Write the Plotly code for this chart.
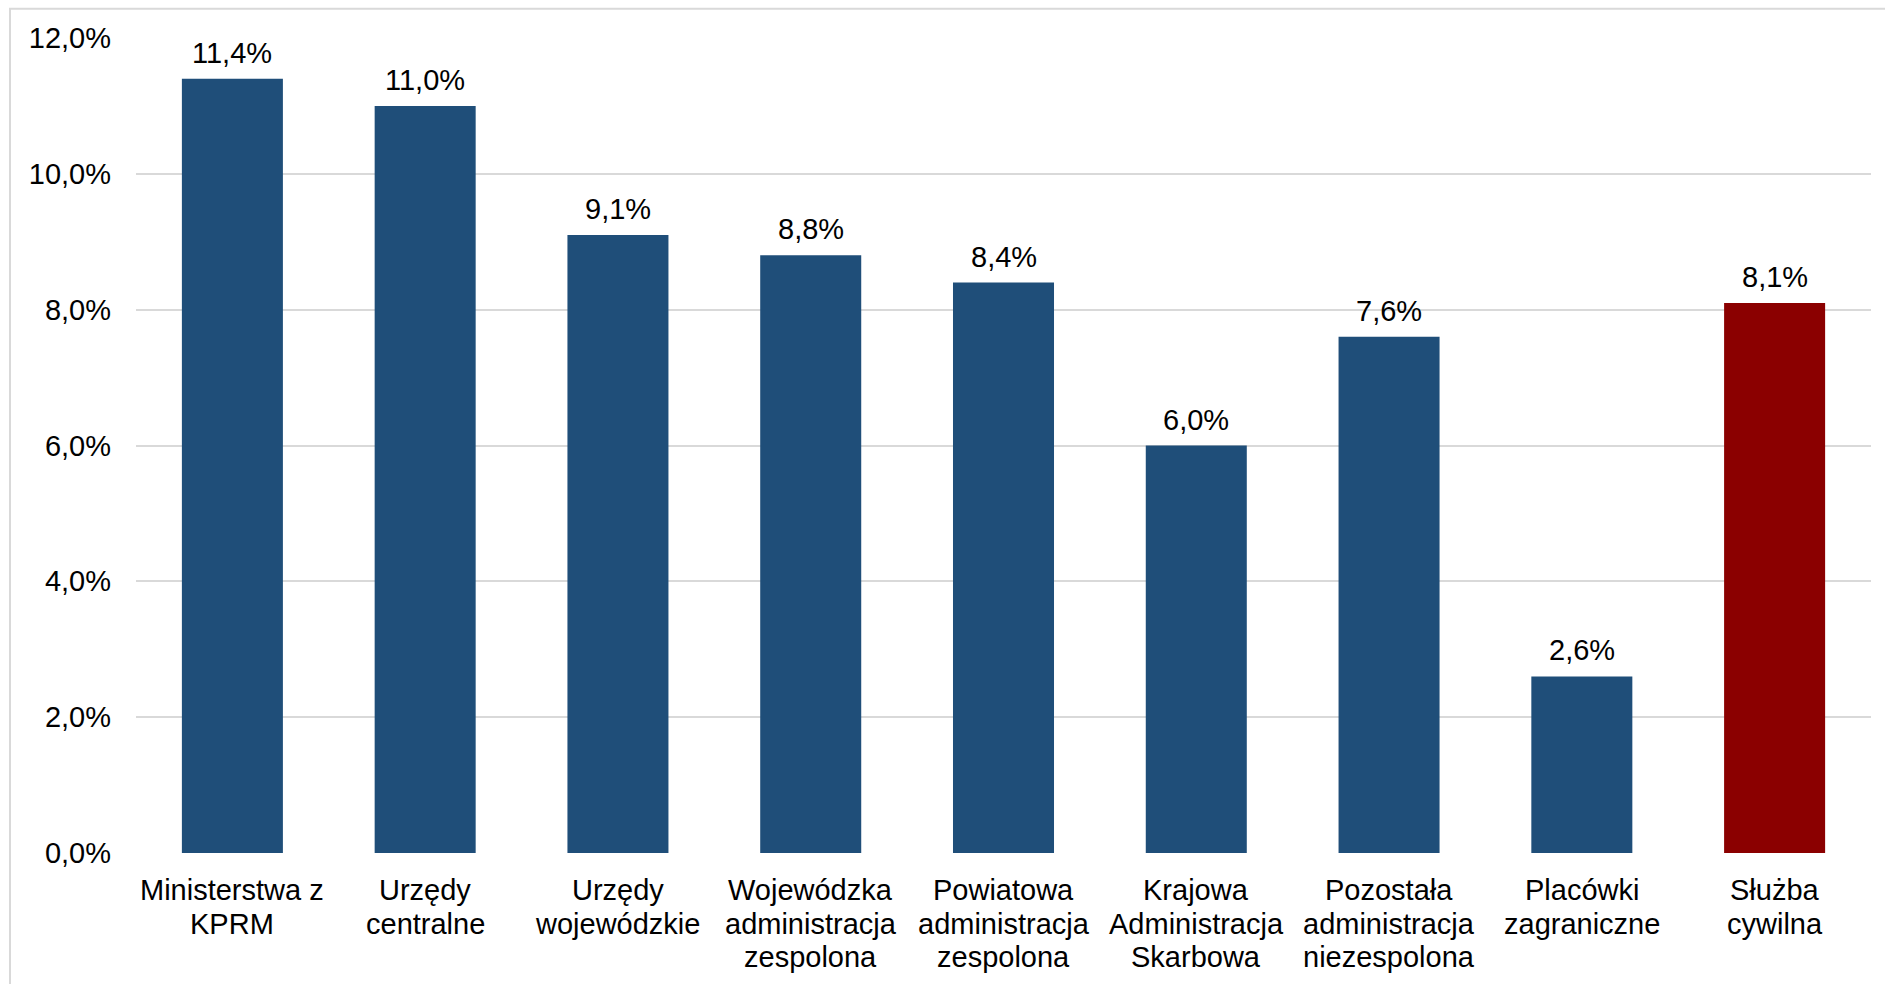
import plotly.graph_objects as go

# Udział (%) w poszczególnych grupach urzędów
categories = [
    "Ministerstwa z KPRM",
    "Urzędy centralne",
    "Urzędy wojewódzkie",
    "Wojewódzka administracja zespolona",
    "Powiatowa administracja zespolona",
    "Krajowa Administracja Skarbowa",
    "Pozostała administracja niezespolona",
    "Placówki zagraniczne",
    "Służba cywilna",
]
category_lines = [
    ["Ministerstwa z", "KPRM"],
    ["Urzędy", "centralne"],
    ["Urzędy", "wojewódzkie"],
    ["Wojewódzka", "administracja", "zespolona"],
    ["Powiatowa", "administracja", "zespolona"],
    ["Krajowa", "Administracja", "Skarbowa"],
    ["Pozostała", "administracja", "niezespolona"],
    ["Placówki", "zagraniczne"],
    ["Służba", "cywilna"],
]
values = [11.4, 11.0, 9.1, 8.8, 8.4, 6.0, 7.6, 2.6, 8.1]
y_ticks = [0, 2, 4, 6, 8, 10, 12]


def pct(v):
    return f"{v:.1f}%".replace(".", ",")


BLUE = "#1F4E79"
RED = "#8B0000"
GRID = "#D9D9D9"
FONT = "Liberation Sans, Arial, sans-serif"
FS = 29

colors = [RED if c == "Służba cywilna" else BLUE for c in categories]

fig = go.Figure(
    go.Bar(
        x=categories,
        y=values,
        marker=dict(color=colors, line=dict(width=0)),
        hoverinfo="skip",
    )
)

# value labels above the bars
for c, v in zip(categories, values):
    fig.add_annotation(
        x=c, y=v, xref="x", yref="y",
        text=pct(v),
        showarrow=False, yanchor="middle", yshift=26,
        font=dict(family=FONT, size=FS, color="#000000"),
    )

# multi-line category labels, one annotation per line
line_step = 33.5
for c, lines in zip(categories, category_lines):
    for i, ln in enumerate(lines):
        fig.add_annotation(
            x=c, y=0, xref="x", yref="paper",
            text=ln, showarrow=False, yanchor="middle",
            yshift=-37 - i * line_step,
            font=dict(family=FONT, size=FS, color="#000000"),
        )

# outer frame (top and left edges)
fig.add_shape(type="rect", xref="paper", yref="paper",
              x0=(10 - 136) / 1735, x1=(1895 - 136) / 1735,
              y0=(853.3 - 995) / 815, y1=(853.3 - 9) / 815,
              line=dict(color=GRID, width=2), fillcolor="rgba(0,0,0,0)",
              layer="below")

fig.update_layout(
    width=1885, height=984,
    margin=dict(l=136, r=14, t=38, b=131, pad=0),
    paper_bgcolor="#FFFFFF", plot_bgcolor="#FFFFFF",
    bargap=0.476,
    showlegend=False,
    font=dict(family=FONT, size=FS, color="#000000"),
)
fig.update_xaxes(
    showticklabels=False, showgrid=False, zeroline=False, showline=False,
    fixedrange=True,
)
fig.update_yaxes(
    range=[0, 12], tickmode="array", tickvals=y_ticks,
    ticktext=[pct(t) for t in y_ticks],
    showgrid=True, gridcolor=GRID, gridwidth=2,
    zeroline=False, showline=False, ticks="",
    ticklabelstandoff=24,
    tickfont=dict(family=FONT, size=FS, color="#000000"),
    fixedrange=True,
)

fig.write_html("out.html", config={"displayModeBar": False})
